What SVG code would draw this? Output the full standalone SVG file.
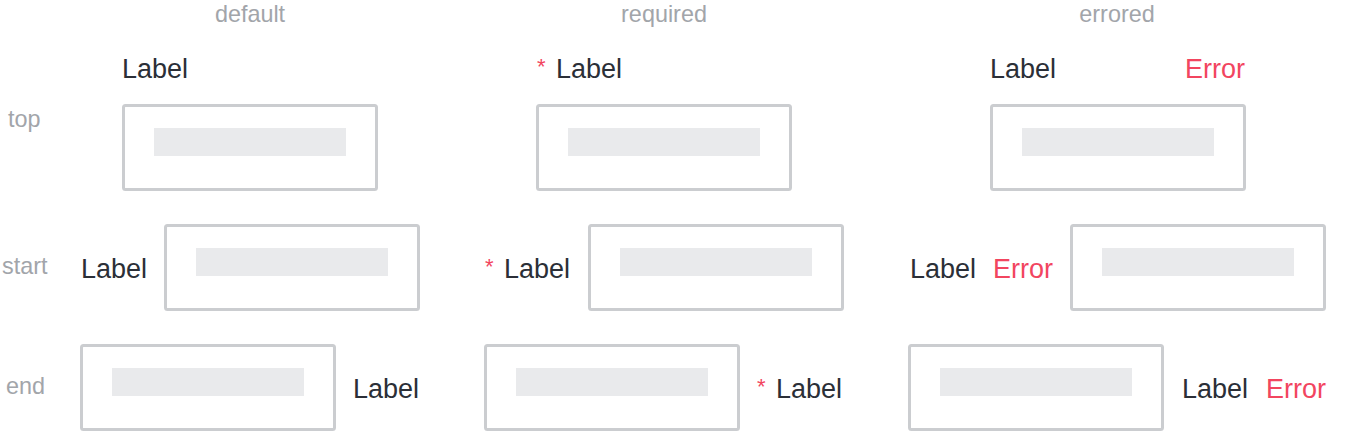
<svg xmlns="http://www.w3.org/2000/svg" width="1358" height="448" viewBox="0 0 1358 448">
<style>
.hdr{font-family:"Liberation Sans",Arial,sans-serif;font-size:23.4px;fill:#a2a5aa}
.lbl{font-family:"Liberation Sans",Arial,sans-serif;font-size:27px;fill:#2b2f37}
.err{font-family:"Liberation Sans",Arial,sans-serif;font-size:27px;fill:#f2455f}
.ast{font-family:"Liberation Sans",Arial,sans-serif;font-size:22px;fill:#f2455f}
.box{fill:#fff;stroke:#cbcdd0;stroke-width:3}
.fill{fill:#e9eaec}
</style>
<rect width="1358" height="448" fill="#fff"/>
<g id="headers">
<text class="hdr" x="250" y="22" text-anchor="middle">default</text>
<text class="hdr" x="664" y="22" text-anchor="middle">required</text>
<text class="hdr" x="1117" y="22" text-anchor="middle">errored</text>
<text class="hdr" x="8" y="127">top</text>
<text class="hdr" x="2" y="274">start</text>
<text class="hdr" x="6" y="394">end</text>
</g>
<g id="default-top">
<text class="lbl" x="122" y="78">Label</text>
<rect class="box" x="123.5" y="105.5" width="253" height="84" rx="2"/>
<rect class="fill" x="154" y="128" width="192" height="28"/>
</g>
<g id="default-start">
<text class="lbl" x="81" y="278">Label</text>
<rect class="box" x="165.5" y="225.5" width="253" height="84" rx="2"/>
<rect class="fill" x="196" y="248" width="192" height="28"/>
</g>
<g id="default-end">
<rect class="box" x="81.5" y="345.5" width="253" height="84" rx="2"/>
<rect class="fill" x="112" y="368" width="192" height="28"/>
<text class="lbl" x="353" y="398">Label</text>
</g>
<g id="required-top">
<text class="ast" x="537" y="74">*</text>
<text class="lbl" x="556" y="78">Label</text>
<rect class="box" x="537.5" y="105.5" width="253" height="84" rx="2"/>
<rect class="fill" x="568" y="128" width="192" height="28"/>
</g>
<g id="required-start">
<text class="ast" x="485" y="274">*</text>
<text class="lbl" x="504" y="278">Label</text>
<rect class="box" x="589.5" y="225.5" width="253" height="84" rx="2"/>
<rect class="fill" x="620" y="248" width="192" height="28"/>
</g>
<g id="required-end">
<rect class="box" x="485.5" y="345.5" width="253" height="84" rx="2"/>
<rect class="fill" x="516" y="368" width="192" height="28"/>
<text class="ast" x="757" y="394">*</text>
<text class="lbl" x="776" y="398">Label</text>
</g>
<g id="errored-top">
<text class="lbl" x="990" y="78">Label</text>
<text class="err" x="1245" y="78" text-anchor="end">Error</text>
<rect class="box" x="991.5" y="105.5" width="253" height="84" rx="2"/>
<rect class="fill" x="1022" y="128" width="192" height="28"/>
</g>
<g id="errored-start">
<text class="lbl" x="910" y="278">Label</text>
<text class="err" x="993" y="278">Error</text>
<rect class="box" x="1071.5" y="225.5" width="253" height="84" rx="2"/>
<rect class="fill" x="1102" y="248" width="192" height="28"/>
</g>
<g id="errored-end">
<rect class="box" x="909.5" y="345.5" width="253" height="84" rx="2"/>
<rect class="fill" x="940" y="368" width="192" height="28"/>
<text class="lbl" x="1182" y="398">Label</text>
<text class="err" x="1266" y="398">Error</text>
</g>
<g id="connectors"></g>
</svg>
